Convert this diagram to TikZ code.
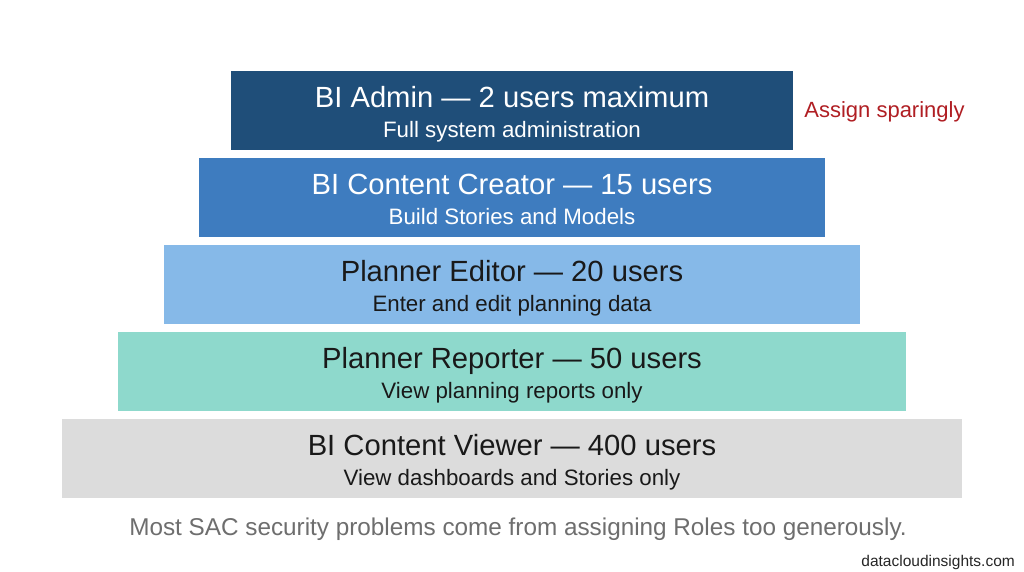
\documentclass[tikz,border=0pt]{standalone}
\usepackage{fontspec}
\setmainfont{Liberation Sans}
\usetikzlibrary{positioning}
\definecolor{adminblue}{HTML}{1F4E79}
\definecolor{creatorblue}{HTML}{3E7CBF}
\definecolor{editorblue}{HTML}{86B9E8}
\definecolor{reporterteal}{HTML}{8ED9CC}
\definecolor{viewergray}{HTML}{DCDCDC}
\definecolor{warnred}{HTML}{B01E23}
\definecolor{notegray}{HTML}{6E6E6E}

\begin{document}
\begin{tikzpicture}[x=1pt, y=-1pt,
    tier/.style={rectangle, inner sep=0pt, minimum height=79pt},
    title/.style={anchor=base, inner sep=0pt, font=\fontsize{29.2}{32}\selectfont},
    sub/.style={anchor=base, inner sep=0pt, font=\fontsize{22.3}{24}\selectfont}]
    \fill[white] (0,0) rectangle (1024,572);
    \useasboundingbox (0,0) rectangle (1024,572);

    \node[tier, fill=adminblue, minimum width=562pt] (admin) at (512,110.5) {};
    \node[tier, fill=creatorblue, minimum width=626pt] (creator) at (512,197.5) {};
    \node[tier, fill=editorblue, minimum width=696pt] (editor) at (512,284.5) {};
    \node[tier, fill=reporterteal, minimum width=788pt] (reporter) at (512,371.5) {};
    \node[tier, fill=viewergray, minimum width=900pt] (viewer) at (512,458.5) {};

    \node[title, white] (adminT) at ([yshift=3pt]admin.center) {BI Admin — 2 users maximum};
    \node[sub, white] (adminS) at ([yshift=-27pt]admin.center) {Full system administration};
    \node[title, white] (creatorT) at ([yshift=3pt]creator.center) {BI Content Creator — 15 users};
    \node[sub, white] (creatorS) at ([yshift=-27pt]creator.center) {Build Stories and Models};
    \node[title, black!90] (editorT) at ([yshift=3pt]editor.center) {Planner Editor — 20 users};
    \node[sub, black!90] (editorS) at ([yshift=-27pt]editor.center) {Enter and edit planning data};
    \node[title, black!90] (reporterT) at ([yshift=3pt]reporter.center) {Planner Reporter — 50 users};
    \node[sub, black!90] (reporterS) at ([yshift=-27pt]reporter.center) {View planning reports only};
    \node[title, black!90] (viewerT) at ([yshift=3pt]viewer.center) {BI Content Viewer — 400 users};
    \node[sub, black!90] (viewerS) at ([yshift=-27pt]viewer.center) {View dashboards and Stories only};

    % side note and footer
    \node[anchor=base west, inner sep=0pt, warnred, font=\fontsize{22}{24}\selectfont]
        (sparing) at ([xshift=11pt, yshift=-7.5pt]admin.east) {Assign sparingly};
    \node[anchor=base, inner sep=0pt, notegray, font=\fontsize{24.3}{28}\selectfont]
        (note) at (518,535) {Most SAC security problems come from assigning Roles too generously.};
    \node[anchor=base east, inner sep=0pt, black!85, font=\fontsize{15.5}{18}\selectfont]
        (site) at (1015,566) {datacloudinsights.com};
\end{tikzpicture}
\end{document}
